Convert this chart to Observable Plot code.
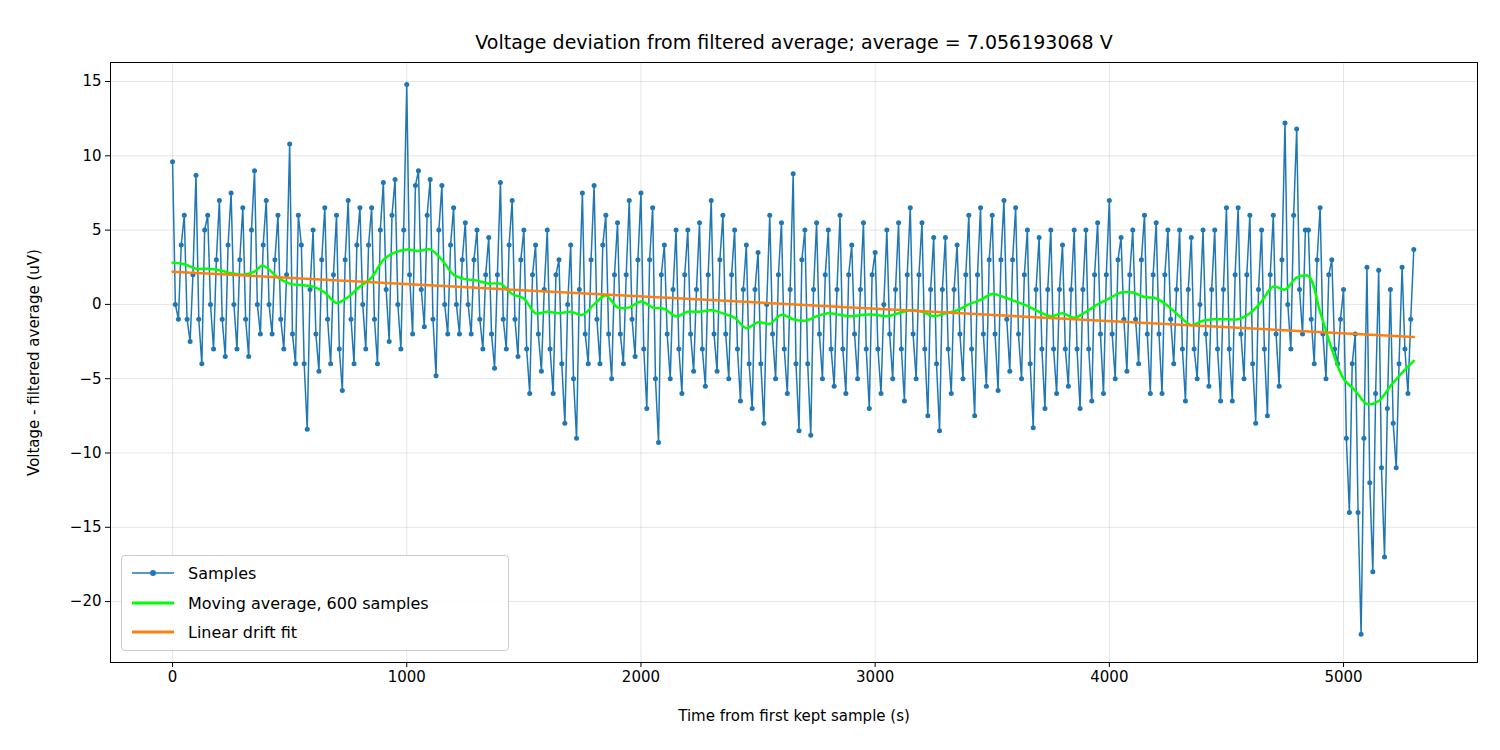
<!DOCTYPE html>
<html><head><meta charset="utf-8">
<script src="https://cdn.jsdelivr.net/npm/d3@7"></script>
<script src="https://cdn.jsdelivr.net/npm/@observablehq/plot@0.6"></script>
<style>
body{margin:0;background:#fff;font-family:"DejaVu Sans",sans-serif}
#wrap{position:relative;width:1500px;height:750px}
#legend{position:absolute;left:121px;top:555px;width:386px;height:94px;border:1px solid #ccc;border-radius:4px;background:rgba(255,255,255,0.85);font-size:16px;color:#000}
.row{position:absolute;left:10px;height:20px;display:flex;align-items:center}
.row span{margin-left:14px}
</style></head><body>
<div id="wrap"></div>
<script>
const stepT = [0,50,100,150,200,250,300,350,400,450,500,550,600,650,700,750,800,850,900,950,1000,1050,1100,1150,1200,1250,1300,1350,1400,1450,1500,1550,1600,1650,1700,1750,1800,1850,1900,1950,2000,2050,2100,2150,2200,2250,2300,2350,2400,2450,2500,2550,2600,2650,2700,2750,2800,2850,2900,2950,3000,3050,3100,3150,3200,3250,3300,3350,3400,3450,3500,3550,3600,3650,3700,3750,3800,3850,3900,3950,4000,4050,4100,4150,4200,4250,4300,4350,4400,4450,4500,4550,4600,4650,4700,4750,4800,4850,4900,4950,5000,5050,5100,5150,5200,5250,5300];
const highV = [9.6,6,8.7,6,7,7.5,6.5,9,7,6,10.8,4,5,6.5,6,7,6.5,6.5,8.2,8.4,14.8,9,8.4,8,6.5,5.5,5,4.5,8.2,7,5,4,5,3,4,7.5,8,6,5.5,7,7.5,6.5,4,5,5,5.5,7,6,5,4,3.5,6,5.5,8.8,5,5.5,5,6,4,5.5,3.5,5,5.5,6.5,5.5,4.5,4.5,4,6,6.5,6,7,6.5,5,4.5,5,4,5,5,5.5,7,4.5,5,6,5.5,5,5,4.5,5,5,6.5,6.5,6,5,6,12.2,11.8,5,6.5,3,1,-2,2.5,2.3,1,2.5,3.7];
const midB = [0,-1,-1,0,-1,0,-1,0,0,-1,-2,-4,-2,-1,-3,-1,0,-1,1,0,2,1,-1,0,0,0,-1,-2,-1,-1,-3,-2,-3,-4,-5,-2,-1,-2,-2,-1,-3,-5,-2,-3,-2,-3,-2,-2,-3,-4,-4,-2,-3,-4,-4,-2,-3,-3,-2,-3,-3,-2,-3,-2,-3,-4,-3,-2,-3,-2,-2,-1,-2,-4,-3,-3,-3,-3,-3,-2,-2,-1,-1,-2,-2,-1,-3,-3,-2,-3,-3,-2,-4,-3,-2,0,1,-1,-2,-3,-9,-14,-12,-11,-8,-3];
const lowV = [-1,-2.5,-4,-3,-3.5,-3,-3.5,-2,-2,-3,-4,-8.4,-4.5,-4,-5.8,-4,-3,-4,-2.5,-3,-2,-1.5,-4.8,-2,-2,-2,-3,-4.3,-3,-3.5,-6,-4.5,-6,-8,-9,-4,-4,-5,-4,-3.5,-7,-9.3,-5,-6,-4.5,-5.5,-4.5,-5,-6.5,-7,-8,-5,-6,-8.5,-8.8,-5,-5.5,-6,-5,-7,-6,-5,-6.5,-5,-7.5,-8.5,-6,-5,-7.5,-5.5,-5.8,-4.5,-5,-8.3,-7,-6,-5.5,-7,-6.5,-6,-5,-4.5,-4,-6,-6,-4,-6.5,-5,-5.5,-6.5,-6.5,-5,-8,-7.5,-5.5,-3,-2,-4,-5,-4,-14,-22.2,-18,-17,-11,-6,-5];
const midA = [4,2,5,3,4,3,5,4,3,2,6,1,3,2,3,4,4,5,6,5,8,6,5,4,3,3,2,2,4,3,2,1,2,0,1,3,4,2,2,3,3,2,1,2,1,2,3,2,1,1,0,2,1,3,1,2,1,2,1,2,0,1,2,2,1,1,1,2,2,3,3,3,2,1,1,1,1,1,2,2,3,2,3,2,2,1,1,0,1,1,2,2,1,2,3,6,5,3,2,-1,-4,-9,-6,-7,-4,-1];
const maT = [0,50,100,150,200,250,300,350,380,400,450,500,550,600,650,700,750,800,850,900,950,1000,1050,1100,1150,1200,1250,1300,1350,1400,1450,1500,1550,1600,1650,1700,1750,1800,1850,1900,1950,2000,2050,2100,2150,2200,2250,2300,2350,2400,2450,2500,2550,2600,2650,2700,2750,2800,2850,2900,2950,3000,3050,3100,3150,3200,3250,3300,3350,3400,3450,3500,3550,3600,3650,3700,3750,3800,3850,3900,3950,4000,4050,4100,4150,4200,4250,4300,4350,4400,4450,4500,4550,4600,4650,4700,4750,4800,4850,4900,4950,5000,5050,5100,5150,5200,5250,5300];
const maV = [2.8,2.7,2.4,2.4,2.3,2.1,2.0,2.2,2.6,2.5,1.8,1.4,1.3,1.2,0.8,0.1,0.5,1.2,1.8,3.0,3.5,3.7,3.6,3.7,3.0,2.0,1.7,1.6,1.4,1.4,0.7,0.4,-0.6,-0.5,-0.6,-0.5,-0.7,0,0.6,-0.2,-0.2,0.2,-0.2,-0.3,-0.8,-0.5,-0.5,-0.4,-0.6,-0.9,-1.6,-1.2,-1.3,-0.7,-1.0,-1.1,-0.8,-0.6,-0.7,-0.8,-0.7,-0.7,-0.8,-0.6,-0.4,-0.5,-0.8,-0.6,-0.4,0,0.3,0.7,0.5,0.2,-0.1,-0.5,-0.8,-0.6,-0.9,-0.5,0,0.4,0.8,0.8,0.5,0.4,-0.1,-0.8,-1.4,-1.1,-1.0,-1.0,-1.0,-0.6,0.2,1.2,1.0,1.8,1.9,-0.5,-3,-5,-5.8,-6.7,-6.5,-5.5,-4.6,-3.8];
const fitT = [0,5300];
const fitV = [2.2,-2.2];
const xTicks = [0,1000,2000,3000,4000,5000];
const yTicks = [-20,-15,-10,-5,0,5,10,15];

const samples = [];
stepT.forEach((t,i)=>{
  samples.push({t:t,v:highV[i]});
  if(i<stepT.length-1){
    samples.push({t:t+12,v:midB[i]});
    samples.push({t:t+25,v:lowV[i]});
    samples.push({t:t+37,v:midA[i]});
  }
});
const ma = maT.map((t,i)=>({t,v:maV[i]}));
const fit = fitT.map((t,i)=>({t,v:fitV[i]}));

const chart = Plot.plot({
  width:1500,height:750,marginLeft:110,marginRight:23,marginTop:62,marginBottom:88,
  style:{fontFamily:"DejaVu Sans",fontSize:"15px",color:"#000"},
  x:{domain:[-265,5572],ticks:xTicks,tickSize:5,label:"Time from first kept sample (s)",labelArrow:"none",labelAnchor:"center",labelOffset:58,tickFormat:d=>String(d)},
  y:{domain:[-24.1,16.28],ticks:yTicks,tickSize:5,label:"Voltage - filtered average (uV)",labelArrow:"none",labelAnchor:"center",labelOffset:82,tickFormat:d=>d<0?"\u2212"+Math.abs(d):String(d)},
  marks:[
    Plot.gridX(xTicks,{stroke:"#000",strokeOpacity:0.1}),
    Plot.gridY(yTicks,{stroke:"#000",strokeOpacity:0.1}),
    Plot.line(samples,{x:"t",y:"v",stroke:"#1f77b4",strokeWidth:1.5}),
    Plot.dot(samples,{x:"t",y:"v",fill:"#1f77b4",r:2.5}),
    Plot.line(ma,{x:"t",y:"v",stroke:"#00ff00",strokeWidth:2.5,curve:"catmull-rom"}),
    Plot.line(fit,{x:"t",y:"v",stroke:"#ff7f0e",strokeWidth:2.5}),
    Plot.frame({stroke:"#000"}),
    Plot.text(["Voltage deviation from filtered average; average = 7.056193068 V"],{frameAnchor:"top",dy:-27,fontSize:19,fill:"#000"})
  ]
});
const wrap=document.getElementById("wrap");
wrap.appendChild(chart);
const lg=document.createElement("div");lg.id="legend";
lg.innerHTML=`
<div class="row" style="top:7px"><svg width="42" height="20"><line x1="0" y1="10" x2="42" y2="10" stroke="#1f77b4" stroke-width="1.5"/><circle cx="21" cy="10" r="3" fill="#1f77b4"/></svg><span>Samples</span></div>
<div class="row" style="top:37px"><svg width="42" height="20"><line x1="0" y1="10" x2="42" y2="10" stroke="#00ff00" stroke-width="3"/></svg><span>Moving average, 600 samples</span></div>
<div class="row" style="top:66px"><svg width="42" height="20"><line x1="0" y1="10" x2="42" y2="10" stroke="#ff7f0e" stroke-width="3"/></svg><span>Linear drift fit</span></div>`;
wrap.appendChild(lg);
</script></body></html>
